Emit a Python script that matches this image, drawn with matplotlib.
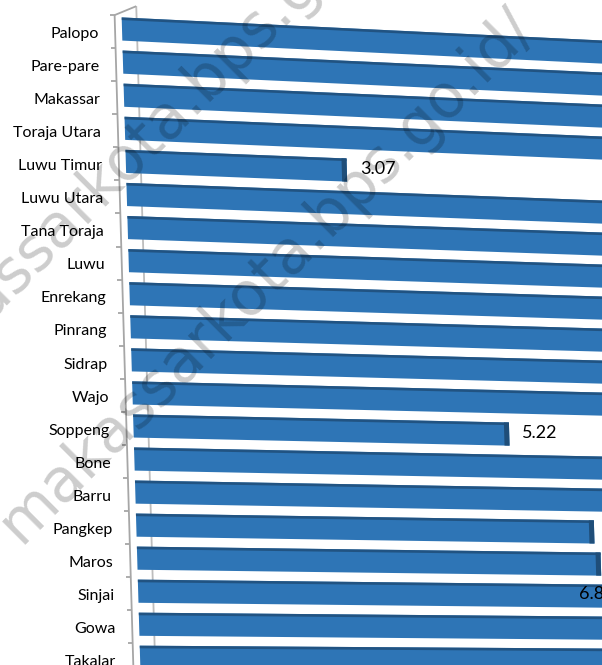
import numpy as np
import matplotlib
matplotlib.use('Agg')
import matplotlib.pyplot as plt
from matplotlib.transforms import Affine2D

# ---- data (top to bottom) ----
categories = ['Palopo', 'Pare-pare', 'Makassar', 'Toraja Utara', 'Luwu Timur',
              'Luwu Utara', 'Tana Toraja', 'Luwu', 'Enrekang', 'Pinrang',
              'Sidrap', 'Wajo', 'Soppeng', 'Bone', 'Barru', 'Pangkep',
              'Maros', 'Sinjai', 'Gowa', 'Takalar']
values = [8.4, 7.9, 7.7, 7.5, 3.07,
          7.4, 7.3, 7.2, 7.1, 7.0,
          7.0, 6.9, 5.22, 6.9, 6.8, 6.36,
          6.44, 6.85, 6.7, 6.7]
labelled = ['Luwu Timur', 'Soppeng', 'Sinjai']
watermark = 'makassarkota.bps.go.id/'

# ---- layout ----
W, H, DPI = 602, 665, 100
fig = plt.figure(figsize=(W / DPI, H / DPI), dpi=DPI)
ax = fig.add_axes([0, 0, 1, 1])
ax.axis('off')

PX_UNIT = 72.0   # pixels per value unit
X0 = 122         # display x of value 0 (top row)
ROW0 = 29        # px from top to first row centre
ROWPX = 33.06    # px per row
ax.set_xlim(-X0 / PX_UNIT, (W - X0) / PX_UNIT)
ax.set_ylim((H - ROW0) / ROWPX, -ROW0 / ROWPX)

# pseudo-3D perspective: wall leans right going down, bars slope down to the right
Y0 = H - ROW0
k = 0.95 / ROWPX
G = Affine2D.from_values(1, 0, -k, 1, k * Y0, 0)
wall_tf = ax.transData + G


def row_tf(i):
    s = max(0.048 - 0.0022 * i, 0.005)
    R = Affine2D.from_values(1, -s, 0, 1, 0, s * X0)
    return ax.transData + G + R


# ---- axis wall lines ----
front_x, back_x = -0.097, 0.207
top_front, top_back = -0.42, -0.69
line_kw = dict(transform=wall_tf, color='#a6a6a6', lw=1.3, clip_on=True, zorder=1,
               solid_capstyle='butt')
ax.plot([front_x, front_x], [top_front, 20.5], **line_kw)
ax.plot([back_x, back_x], [top_back, 20.5], **dict(line_kw, color='#bdbdbd'))
ax.plot([front_x, back_x], [top_front, top_back], **line_kw)
for t in np.arange(len(categories) + 1) - 0.5 + 0.08:
    ax.plot([front_x - 0.07, front_x], [t, t], **line_kw)

# ---- bars ----
BAR_H = 0.70
BLUE = '#2E75B6'
DARK = '#1F4E79'
for i, v in enumerate(values):
    tf = row_tf(i)
    body = ax.barh(i, v, height=BAR_H, color=BLUE, linewidth=0, zorder=2)
    top = ax.barh(i - BAR_H / 2 + 0.04, v, height=0.08, color=DARK,
                  linewidth=0, alpha=0.85, zorder=3)
    cap = ax.barh(i, 0.07, left=v - 0.07, height=BAR_H, color=DARK,
                  linewidth=0, zorder=3)
    for cont in (body, top, cap):
        for p in cont.patches:
            p.set_transform(tf)

# ---- category labels ----
for i, c in enumerate(categories):
    ax.text(-0.33, i + 0.15, c, transform=wall_tf, ha='right', va='center',
            fontsize=11.5, family='Lato', color='#000000')

# ---- value labels (clamped to chart area like Excel) ----
LABEL_MAX = 6.12
for c in labelled:
    i = categories.index(c)
    v = values[i]
    ax.text(min(v + 0.18, LABEL_MAX), i - 0.05, f'{v:.2f}', transform=row_tf(i),
            ha='left', va='center', fontsize=13, family='Lato', color='#000000')

# ---- watermark ----
wm_kw = dict(rotation=45, rotation_mode='anchor', ha='left', va='baseline',
             fontsize=43, color='black', alpha=0.2, family='DejaVu Sans', zorder=10)
fig.text(20 / W, 1 - 545 / H, watermark, **wm_kw)
fig.text(-103 / W, 1 - 410 / H, watermark, **wm_kw)

fig.savefig('out.png', dpi=DPI)
